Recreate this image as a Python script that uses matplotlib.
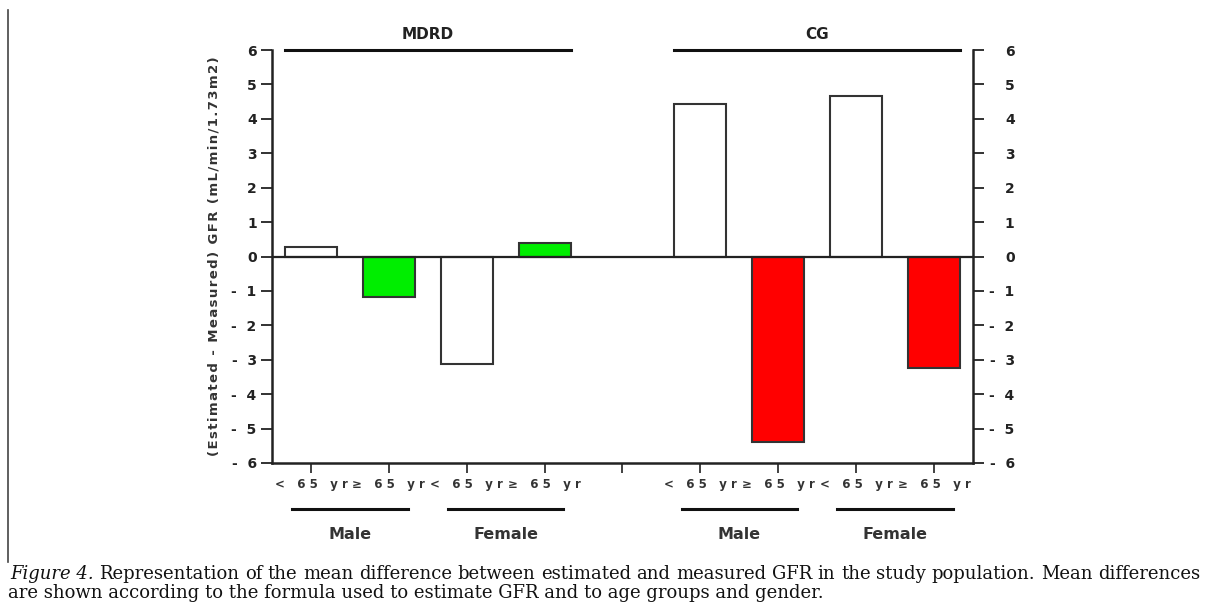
import numpy as np
import matplotlib

matplotlib.use('Agg')

import matplotlib.pyplot as plt
import matplotlib.transforms as mtrans

# bar positions (5 is the empty gap between the two formulas)
pos = [1, 2, 3, 4, 6, 7, 8, 9]
values = [0.28, -1.18, -3.12, 0.40, 4.42, -5.40, 4.67, -3.24]
colors = ['white', '#00ee00', 'white', '#00ee00',
          'white', '#ff0000', 'white', '#ff0000']
age_labels = ['<   6 5   y r', '\u2265   6 5   y r'] * 2
formulas = ['MDRD', 'CG']
genders = ['Male', 'Female', 'Male', 'Female']
yticks = [6, 5, 4, 3, 2, 1, 0, -1, -2, -3, -4, -5, -6]
ylab = '(Estimated - Measured) GFR (mL/min/1.73m2)'
caption1 = ('Representation of the mean difference between estimated and measured GFR '
            'in the study population. Mean differences')
caption2 = 'are shown according to the formula used to estimate GFR and to age groups and gender.'

txt = '#222222'
fig = plt.figure(figsize=(12.14, 6.03), dpi=100)
ax = fig.add_axes([272 / 1214, 1 - 463 / 603, 701 / 1214, 413 / 603])

w = 0.67
ax.bar(pos, values, width=w, color=colors, edgecolor='#333333', linewidth=1.5, zorder=2)
ax.axhline(0, color='#222222', lw=1.6, zorder=3)

ax.set_xlim(0.5, 9.5)
ax.set_ylim(-6, 6)
for s in ['left', 'right', 'bottom']:
    ax.spines[s].set_linewidth(1.8)
    ax.spines[s].set_color('#222222')
ax.spines['top'].set_visible(False)

ax.set_xticks(range(1, 10))
ax.set_xticklabels(age_labels + [''] + age_labels,
                   fontsize=8.5, fontweight='bold', color='#333333')
ax.tick_params(axis='x', length=7, width=1.3, pad=4, colors='#333333')

ylabels = [str(v) if v >= 0 else '-  ' + str(-v) for v in yticks]
ax.set_yticks(yticks)
ax.set_yticklabels(ylabels, fontsize=10, fontweight='bold', color=txt)
ax.tick_params(axis='y', length=8, width=1.3, pad=3, colors='#222222')

# right axis mirrors the left one, digits right-aligned
ax2 = ax.twinx()
ax2.set_ylim(-6, 6)
ax2.set_yticks(yticks)
ax2.set_yticklabels([str(v) if v >= 0 else '-  ' + str(-v) for v in yticks],
                    fontsize=10, fontweight='bold', color=txt)
ax2.tick_params(axis='y', length=8, width=1.3, pad=22, colors='#222222')
for t in ax2.get_yticklabels():
    t.set_horizontalalignment('right')
for s in ['left', 'right', 'bottom', 'top']:
    ax2.spines[s].set_visible(False)
ax.spines['right'].set_zorder(5)

ax.set_ylabel('\u200a'.join(ylab), fontsize=9.5, fontweight='bold', color='#333333', labelpad=8)

# formula headers with lines at the top
for i, name in enumerate(formulas):
    left = pos[4 * i] - w / 2
    right = pos[4 * i + 3] + w / 2
    ax.plot([left, right], [6, 6], color='#111111', lw=2.2, clip_on=False)
    ax.text((left + right) / 2, 6.45, name, ha='center', va='center',
            fontsize=11, fontweight='bold', color=txt)

# gender labels below the age labels
trans = mtrans.blended_transform_factory(ax.transData, ax.transAxes)
for i, g in enumerate(genders):
    c = (pos[2 * i] + pos[2 * i + 1]) / 2
    ax.plot([c - 0.74, c + 0.74], [-0.111, -0.111], color='#111111', lw=2.2,
            transform=trans, clip_on=False)
    ax.text(c, -0.174, g, ha='center', va='center', fontsize=11.5,
            fontweight='bold', color='#333333', transform=trans)

# left border line
fig.add_artist(plt.Line2D([8 / 1214, 8 / 1214], [1 - 10 / 603, 1 - 562 / 603],
                          color='#444444', lw=1.2))

# caption, first line justified out to x = 1200
r = fig.canvas.get_renderer()
cfont = dict(fontsize=13, family='DejaVu Serif', va='center', color='#111111')
y1 = 1 - 574 / 603
t1 = fig.text(10 / 1214, y1, 'Figure 4.', style='italic', **cfont)
x = t1.get_window_extent(renderer=r).x1
words = caption1.split(' ')
widths = []
for wd in words:
    tt = fig.text(0, 0, wd, **cfont)
    widths.append(tt.get_window_extent(renderer=r).width)
    tt.remove()
gap = (1200 - x - sum(widths)) / len(words)
for wd, wi in zip(words, widths):
    x += gap
    fig.text(x / 1214, y1, wd, **cfont)
    x += wi
fig.text(8 / 1214, 1 - 593 / 603, caption2, **cfont)

fig.savefig('out.png', dpi=100)
